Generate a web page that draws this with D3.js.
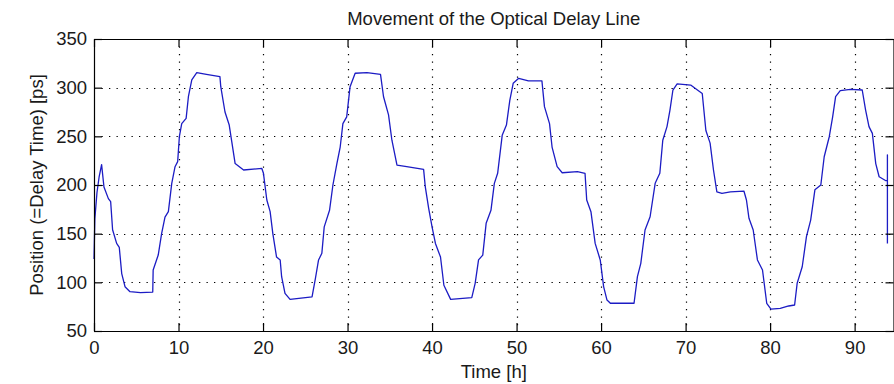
<!DOCTYPE html>
<html>
<head>
<meta charset="utf-8">
<script src="https://cdn.jsdelivr.net/npm/d3@7"></script>
<style>
  html, body { margin: 0; padding: 0; background: #fff; }
  svg { display: block; }
  text { font-family: "Liberation Sans", Arial, Helvetica, sans-serif; fill: #1a1a1a; }
</style>
</head>
<body>
<svg id="chart" width="894" height="384"></svg>
<script>
// ---- data ----
const titleText = "Movement of the Optical Delay Line";
const xLabelText = "Time [h]";
const yLabelText = "Position (=Delay Time) [ps]";
const xTicks = [0, 10, 20, 30, 40, 50, 60, 70, 80, 90];
const yTicks = [50, 100, 150, 200, 250, 300, 350];
const timeH = [0, 0.1, 0.35, 0.6, 0.9, 1.18, 1.7, 1.97, 2.2, 2.68, 2.99, 3.28, 3.67, 4.26, 5.5, 6.95, 7.0, 7.6, 8.0, 8.4, 8.8, 9.2, 9.59, 9.9, 10.1, 10.38, 10.9, 11.17, 11.57, 12.16, 13.3, 14.9, 15.0, 15.5, 16.0, 16.3, 16.7, 17.7, 19.86, 20.05, 20.45, 20.84, 21.16, 21.6, 22.03, 22.2, 22.6, 23.2, 25.8, 26.2, 26.57, 26.96, 27.24, 27.87, 28.27, 28.74, 29.13, 29.45, 29.9, 30.3, 30.9, 32.3, 33.9, 34.26, 34.85, 35.25, 35.85, 37.0, 39.0, 39.2, 39.6, 40.0, 40.4, 41.0, 41.4, 42.2, 44.7, 45.1, 45.5, 46.0, 46.4, 46.97, 47.37, 47.76, 48.3, 48.8, 49.2, 49.6, 50.25, 51.4, 53.0, 53.3, 53.9, 54.2, 54.8, 55.4, 57.2, 58.1, 58.3, 58.8, 59.3, 59.9, 60.3, 60.7, 61.1, 63.9, 64.3, 64.7, 65.2, 65.8, 66.4, 66.95, 67.3, 67.8, 68.15, 68.5, 69.0, 70.6, 71.4, 71.97, 72.4, 72.9, 73.3, 73.7, 74.3, 75.3, 76.9, 77.2, 77.5, 78.0, 78.5, 79.1, 79.6, 80.1, 81.2, 82.2, 82.9, 83.2, 83.8, 84.3, 84.8, 85.3, 86.0, 86.4, 87.0, 87.4, 87.75, 88.3, 89.5, 90.9, 91.3, 91.7, 92.1, 92.5, 92.9, 93.7, 93.88, 93.88, 93.88];
const positionPs = [124, 165, 192, 208, 221, 198, 186, 183, 154, 140, 136, 109, 95.5, 90.4, 89.5, 90, 112.7, 128, 150, 167, 172.6, 201.7, 218.8, 224, 249.6, 263, 268.5, 290.7, 308, 315.4, 313.7, 311.3, 301, 275, 261.6, 244.5, 222, 215.4, 217, 212, 184.6, 172.6, 150, 126, 123, 105.8, 88.7, 82.5, 85, 104, 123, 129.8, 157, 174, 200, 222, 239, 263, 270, 301, 314.8, 315.4, 313.7, 290.7, 272, 246, 220.5, 218.8, 216, 198, 176, 157, 140, 126, 97, 82.5, 84.3, 99, 123, 128, 160.6, 174, 201.7, 212, 251, 261.6, 287, 304.5, 309.6, 307, 307, 280.5, 263, 239, 218.8, 212.6, 213.7, 212, 184.6, 172.6, 140, 123, 95.6, 81.8, 78.5, 78.5, 105.8, 119.5, 153.8, 167.4, 201.7, 212, 246, 260, 277, 297.6, 303.8, 302.7, 297.6, 294, 256, 243, 215.4, 193, 191.5, 193, 193.8, 184.6, 165.8, 153.8, 123, 112.7, 78.5, 72.4, 73.3, 75.7, 76.7, 99, 116, 146.9, 164, 195, 200, 229, 249.6, 270, 290.7, 297, 298.3, 297.6, 277, 260, 253, 222, 208.5, 204.4, 204.4, 231, 140];
const xDomain = [0, 94.6];
const yDomain = [50, 350];

// ---- layout ----
const svg = d3.select("#chart");
const L = 94, R = 893.5, T = 39, B = 331;
const x = d3.scaleLinear().domain(xDomain).range([L, R]);
const y = d3.scaleLinear().domain(yDomain).range([B, T]);
const tickLen = 8;
const fontSize = 18.5;

svg.append("rect").attr("width", 894).attr("height", 384).attr("fill", "#fff");

// grid
const grid = svg.append("g").attr("stroke", "#000").attr("stroke-width", 1.2)
  .attr("stroke-dasharray", "1.3,6.2").attr("fill", "none");
xTicks.filter(d => d > xDomain[0] && d < xDomain[1]).forEach(d => {
  grid.append("line").attr("x1", Math.round(x(d)) + 0.5).attr("x2", Math.round(x(d)) + 0.5)
    .attr("y1", T).attr("y2", B);
});
yTicks.filter(d => d > yDomain[0] && d < yDomain[1]).forEach(d => {
  grid.append("line").attr("y1", Math.round(y(d)) + 0.5).attr("y2", Math.round(y(d)) + 0.5)
    .attr("x1", L).attr("x2", R);
});

// data line
const pts = timeH.map((t, i) => [t, positionPs[i]]);
svg.append("path")
  .datum(pts)
  .attr("fill", "none")
  .attr("stroke", "#1c1cc4")
  .attr("stroke-width", 1.3)
  .attr("stroke-linejoin", "round")
  .attr("d", d3.line().x(d => x(d[0])).y(d => y(d[1])));

// axes (inward ticks, MATLAB style)
const fmt = d3.format("d");
const xAxisB = d3.axisBottom(x).tickValues(xTicks).tickSizeInner(-tickLen).tickSizeOuter(0).tickPadding(10).tickFormat(fmt);
const xAxisT = d3.axisTop(x).tickValues(xTicks).tickSizeInner(-tickLen).tickSizeOuter(0).tickFormat("");
const yAxisL = d3.axisLeft(y).tickValues(yTicks).tickSizeInner(-tickLen).tickSizeOuter(0).tickPadding(7).tickFormat(fmt);
const yAxisR = d3.axisRight(y).tickValues(yTicks).tickSizeInner(-tickLen).tickSizeOuter(0).tickFormat("");

function styleAxis(g) {
  g.selectAll("path.domain").attr("stroke", "#000").attr("stroke-width", 1.2);
  g.selectAll(".tick line").attr("stroke", "#000").attr("stroke-width", 1.2);
  g.selectAll(".tick text").attr("font-size", fontSize)
    .attr("font-family", '"Liberation Sans", Arial, sans-serif').attr("fill", "#1a1a1a");
}
svg.append("g").attr("transform", `translate(0,${B})`).call(xAxisB).call(styleAxis);
svg.append("g").attr("transform", `translate(0,${T})`).call(xAxisT).call(styleAxis);
svg.append("g").attr("transform", `translate(${L},0)`).call(yAxisL).call(styleAxis);
svg.append("g").attr("transform", `translate(${R},0)`).call(yAxisR).call(styleAxis);

// titles
svg.append("text").attr("x", (L + R) / 2).attr("y", 25).attr("text-anchor", "middle")
  .attr("font-size", fontSize).text(titleText);
svg.append("text").attr("x", (L + R) / 2).attr("y", 378).attr("text-anchor", "middle")
  .attr("font-size", fontSize).text(xLabelText);
svg.append("text").attr("transform", `translate(42.5,${(T + B) / 2}) rotate(-90)`)
  .attr("text-anchor", "middle").attr("font-size", fontSize).text(yLabelText);
</script>
</body>
</html>
